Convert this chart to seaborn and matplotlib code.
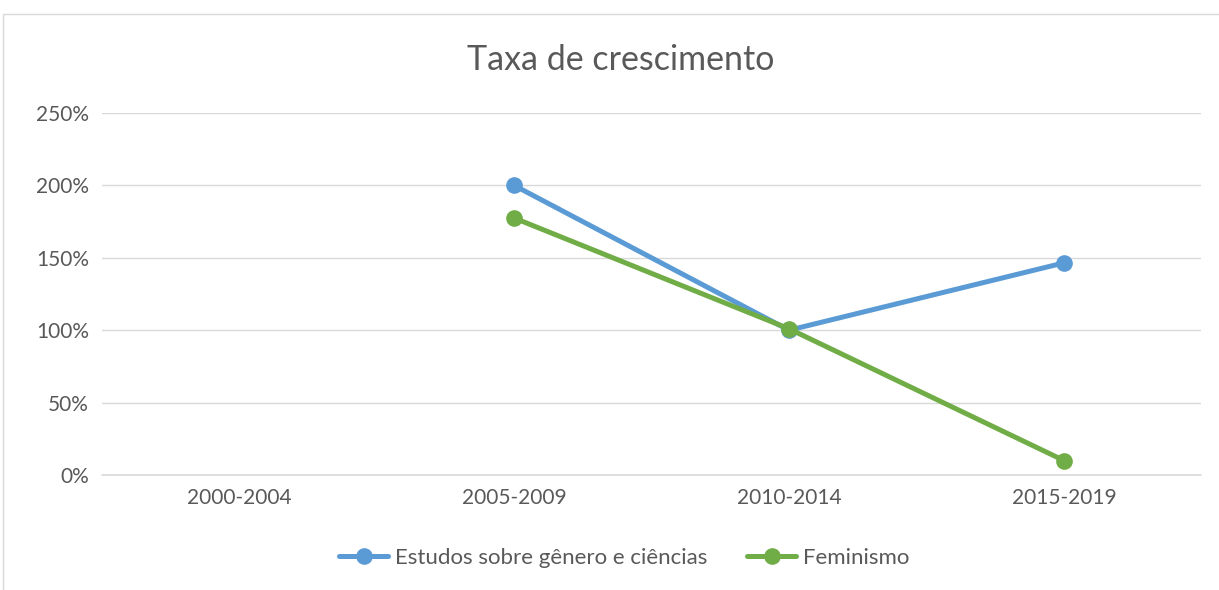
import seaborn as sns
import matplotlib.pyplot as plt
import matplotlib.ticker as mticker
from matplotlib.lines import Line2D
import numpy as np
import pandas as pd

# dados
periodos = ["2000-2004", "2005-2009", "2010-2014", "2015-2019"]
genero_ciencias = [np.nan, 2.00, 1.00, 1.465]
feminismo = [np.nan, 1.775, 1.01, 0.10]
series = ["Estudos sobre gênero e ciências", "Feminismo"]

df = pd.DataFrame({
    "pos": list(range(len(periodos))) * 2,
    "valor": genero_ciencias + feminismo,
    "serie": [series[0]] * len(periodos) + [series[1]] * len(periodos),
})

sns.set_style("white")
plt.rcParams["font.family"] = ["Lato", "DejaVu Sans"]
cinza = "#595959"

fig = plt.figure(figsize=(12.19, 5.9), dpi=100)
ax = fig.add_axes([0.0833, 0.1949, 0.9023, 0.6136])

sns.lineplot(data=df, x="pos", y="valor", hue="serie", hue_order=series,
             palette=["#5B9BD5", "#70AD47"], marker="o", markersize=12,
             markeredgewidth=0, linewidth=3.6, ax=ax, legend=False, zorder=3)

ax.set_xlim(-0.5, 3.5)
ax.set_ylim(0, 2.5)
ax.set_xticks(range(len(periodos)))
ax.set_xticklabels(periodos)
ax.set_yticks(np.arange(0, 2.51, 0.5))
ax.yaxis.set_major_formatter(mticker.FuncFormatter(lambda v, p: f"{v*100:.0f}%"))
ax.grid(axis="y", color="#D9D9D9", linewidth=1)
ax.axhline(0, color="#D9D9D9", linewidth=1.2, clip_on=False, zorder=1)
ax.set_axisbelow(True)
for s in ax.spines.values():
    s.set_visible(False)
ax.tick_params(axis="both", length=0, labelsize=15, colors=cinza, pad=9)
ax.set_xlabel("")
ax.set_ylabel("")

fig.text(0.509, 0.898, "Taxa de crescimento", ha="center", va="center",
         fontsize=24.5, color=cinza)

handles = [Line2D([0], [0], color=c, linewidth=3.6, marker="o", markersize=12,
                  markeredgewidth=0) for c in ["#5B9BD5", "#70AD47"]]
fig.legend(handles, series, loc="center", bbox_to_anchor=(0.512, 0.054), ncol=2,
           frameon=False, fontsize=16, labelcolor=cinza, handlelength=2.2,
           handletextpad=0.3, columnspacing=1.8)

# moldura do gráfico
fig.add_artist(Line2D([3/1219, 1], [1-14/590, 1-14/590], color="#D9D9D9", linewidth=1))
fig.add_artist(Line2D([3/1219, 3/1219], [0, 1-14/590], color="#D9D9D9", linewidth=1))

fig.savefig("out.png", dpi=100, facecolor="white")
